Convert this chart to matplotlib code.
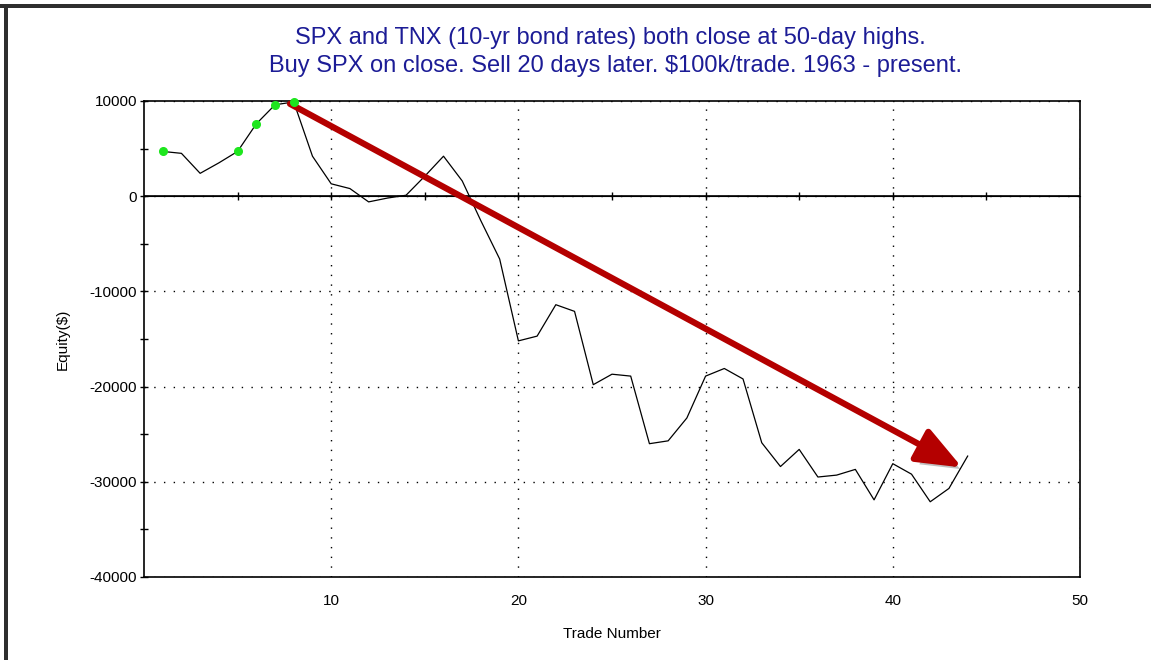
import matplotlib
matplotlib.use('Agg')
import matplotlib.pyplot as plt
import matplotlib.patheffects as pe
from matplotlib.patches import Rectangle
from matplotlib.ticker import MultipleLocator
import numpy as np

plt.rcParams['font.family'] = ['Liberation Sans', 'DejaVu Sans']
plt.rcParams['axes.unicode_minus'] = False

# equity curve, one value per trade
trades = np.arange(1, 45)
equity = [4700, 4500, 2400, 3500, 4700, 7600, 9600, 9900, 4200, 1300,
          800, -600, -200, 100, 2100, 4200, 1600, -2600, -6600, -15200,
          -14700, -11400, -12100, -19800, -18700, -18900, -26000, -25700, -23300, -18900,
          -18100, -19200, -25900, -28400, -26600, -29500, -29300, -28700, -31900, -28100,
          -29200, -32100, -30700, -27300]
# trades where equity made a new high (green dots)
high_trades = [1, 5, 6, 7, 8]

x_ticks = [10, 20, 30, 40, 50]
title_lines = ['SPX and TNX (10-yr bond rates) both close at 50-day highs.',
               'Buy SPX on close. Sell 20 days later. $100k/trade. 1963 - present.']

fig = plt.figure(figsize=(11.51, 6.6), dpi=100)
ax = fig.add_axes([0.1251, 0.1258, 0.8132, 0.7212])

ax.plot(trades, equity, color='black', lw=0.9, zorder=3)

ax.set_xlim(0, 50)
ax.set_ylim(-40000, 10000)

# dotted grid on major ticks
ax.set_xticks(x_ticks)
ax.yaxis.set_major_locator(MultipleLocator(10000))
ax.yaxis.set_minor_locator(MultipleLocator(5000))
ax.grid(True, which='major', color='black', lw=1.0, linestyle=(0, (1, 6)))

for s in ax.spines.values():
    s.set_linewidth(1.2)

ax.tick_params(axis='x', length=0, pad=12, labelsize=11)
ax.tick_params(axis='y', which='both', direction='inout', length=6, width=1, pad=2, labelsize=11)

# zero line carries the x ticks
ax.axhline(0, color='black', lw=1.2, zorder=2)
zero_ax = ax.secondary_xaxis(0.8)
zero_ax.spines['bottom'].set_visible(False)
zero_ax.set_xticks([10, 20, 30, 40])
zero_ax.set_xticks([5, 15, 25, 35, 45], minor=True)
zero_ax.tick_params(axis='x', which='both', direction='inout', length=6, width=1,
                    labeltop=False, labelbottom=False)

ax.set_xlabel('Trade Number', fontsize=11, labelpad=14)
ax.set_ylabel('Equity($)', fontsize=11, labelpad=14)

fig.text(0.530, 0.943, title_lines[0], ha='center', va='center', fontsize=17, color='#1c1c96')
fig.text(0.535, 0.900, title_lines[1], ha='center', va='center', fontsize=17, color='#1c1c96')

# red trend arrow
ax.annotate('', xy=(43.7, -28500), xytext=(7.8, 9700),
            arrowprops=dict(arrowstyle='-|>,head_length=0.55,head_width=0.22',
                            mutation_scale=50, lw=4.5, color='#b40000',
                            shrinkA=0, shrinkB=0,
                            path_effects=[pe.SimplePatchShadow(offset=(4, -4), shadow_rgbFace='black', alpha=0.25),
                                          pe.Normal()]),
            zorder=5)

hi_vals = [equity[t - 1] for t in high_trades]
ax.plot(high_trades, hi_vals, 'o', color='#1ee61e', ms=5.5, mec='#1ee61e', zorder=6, clip_on=False)

# window frame on top and left
fig.add_artist(Rectangle((0, 1 - 8 / 660), 1, 4 / 660, transform=fig.transFigure, color='#2e2e2e', lw=0))
fig.add_artist(Rectangle((4 / 1151, 0), 4 / 1151, 1 - 4 / 660, transform=fig.transFigure, color='#2e2e2e', lw=0))

fig.savefig('out.png', dpi=100, facecolor='white')
